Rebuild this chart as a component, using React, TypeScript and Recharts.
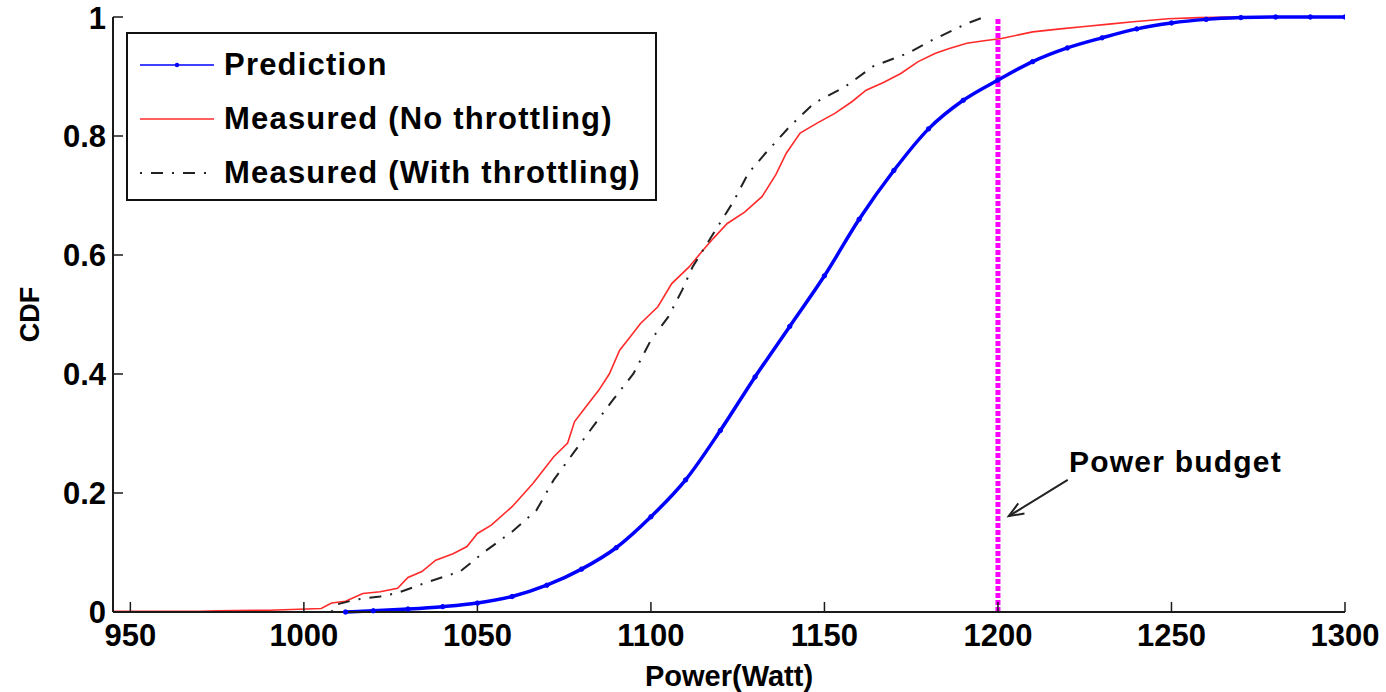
import React from "react";
import {
  LineChart,
  Line,
  XAxis,
  YAxis,
  ReferenceLine,
  ReferenceDot,
  Legend,
} from "recharts";

const FONT = '"Liberation Sans", Arial, Helvetica, sans-serif';

// Power (W) / CDF pairs
const predX = [1012, 1020, 1030, 1040, 1050, 1060, 1070, 1080, 1090, 1100, 1110, 1120, 1130, 1140, 1150, 1160, 1170, 1180, 1190, 1200, 1210, 1220, 1230, 1240, 1250, 1260, 1270, 1280, 1290, 1300];
const predY = [0.0, 0.002, 0.005, 0.009, 0.015, 0.026, 0.045, 0.072, 0.108, 0.16, 0.222, 0.305, 0.395, 0.48, 0.565, 0.66, 0.742, 0.812, 0.86, 0.894, 0.925, 0.948, 0.965, 0.98, 0.99, 0.996, 0.999, 1.0, 1.0, 1.0];

const noThrX = [945, 970, 975, 990, 1005, 1008, 1012, 1017, 1022, 1027, 1030, 1034, 1038, 1043, 1047, 1050, 1054, 1060, 1066, 1072, 1076, 1078, 1081, 1085, 1088, 1091, 1094, 1097, 1102, 1106, 1111, 1115, 1118, 1122, 1127, 1132, 1136, 1139, 1143, 1148, 1153, 1158, 1162, 1167, 1172, 1177, 1182, 1186, 1191, 1196, 1201, 1210, 1218, 1225, 1232, 1239, 1249, 1258, 1268];
const noThrY = [0.001, 0.001, 0.002, 0.003, 0.006, 0.015, 0.018, 0.031, 0.034, 0.04, 0.058, 0.068, 0.087, 0.098, 0.11, 0.132, 0.146, 0.177, 0.216, 0.261, 0.284, 0.32, 0.343, 0.373, 0.4, 0.44, 0.462, 0.485, 0.513, 0.552, 0.58, 0.608, 0.628, 0.653, 0.672, 0.698, 0.735, 0.771, 0.805, 0.822, 0.838, 0.858, 0.877, 0.89, 0.905, 0.925, 0.939, 0.947, 0.956, 0.96, 0.964, 0.975, 0.98, 0.984, 0.988, 0.992, 0.997, 0.999, 1.0];

const withThrX = [1008, 1009, 1015, 1022, 1027, 1036, 1045, 1052, 1060, 1067, 1072, 1078, 1084, 1089, 1095, 1100, 1105, 1109, 1112, 1118, 1124, 1128, 1133, 1140, 1147, 1156, 1164, 1174, 1181, 1191, 1196];
const withThrY = [0, 0.012, 0.021, 0.026, 0.032, 0.051, 0.068, 0.101, 0.135, 0.171, 0.222, 0.27, 0.317, 0.356, 0.401, 0.457, 0.496, 0.541, 0.58, 0.636, 0.692, 0.737, 0.771, 0.816, 0.855, 0.883, 0.917, 0.939, 0.961, 0.989, 1.0];

const xTicks = [950, 1000, 1050, 1100, 1150, 1200, 1250, 1300];
const yTicks = [0, 0.2, 0.4, 0.6, 0.8, 1];
const powerBudget = 1200;

const seriesNames = ["Prediction", "Measured (No throttling)", "Measured (With throttling)"];

const toPts = (xs: number[], ys: number[]) => xs.map((x, i) => ({ x, y: ys[i] }));
const predData = toPts(predX, predY);
const noThrData = toPts(noThrX, noThrY);
const withThrData = toPts(withThrX, withThrY);

const fmtY = (v: number) => (v === 0 || v === 1 ? String(v) : v.toFixed(1));

const tickStyle = { fontSize: 31, fontWeight: "bold", fill: "#000", fontFamily: FONT };
const axisLine = { stroke: "#1a1a1a", strokeWidth: 2 };

const LegendBox = () => (
  <div
    style={{
      width: 531,
      height: 169,
      border: "2px solid #111",
      background: "#fff",
      boxSizing: "border-box",
      fontFamily: FONT,
      fontWeight: "bold",
      fontSize: 31,
      letterSpacing: 1.2,
      color: "#000",
      paddingTop: 4,
    }}
  >
    {seriesNames.map((name, i) => (
      <div key={name} style={{ height: 54, display: "flex", alignItems: "center" }}>
        <svg width={96} height={20} style={{ flex: "none" }}>
          {i === 0 && (
            <g>
              <line x1={12} y1={10} x2={86} y2={10} stroke="#0000ff" strokeWidth={1.5} />
              <circle cx={49} cy={10} r={2.2} fill="#0000ff" />
            </g>
          )}
          {i === 1 && <line x1={12} y1={10} x2={86} y2={10} stroke="#ff2a2a" strokeWidth={1.5} />}
          {i === 2 && (
            <line x1={12} y1={10} x2={86} y2={10} stroke="#222" strokeWidth={1.8} strokeDasharray="2 9 12 9" />
          )}
        </svg>
        <span style={{ whiteSpace: "nowrap" }}>{name}</span>
      </div>
    ))}
  </div>
);

const ArrowShape = (props: any) => {
  const { x1, y1, x2, y2 } = props;
  const ang = Math.atan2(y2 - y1, x2 - x1);
  const L = 16;
  const w = 0.38;
  const p1 = [x2 - L * Math.cos(ang - w), y2 - L * Math.sin(ang - w)];
  const p2 = [x2 - L * Math.cos(ang + w), y2 - L * Math.sin(ang + w)];
  return (
    <g>
      <line x1={x1} y1={y1} x2={x2} y2={y2} stroke="#222" strokeWidth={2} />
      <polyline points={`${p1[0]},${p1[1]} ${x2},${y2} ${p2[0]},${p2[1]}`} fill="none" stroke="#222" strokeWidth={2} />
    </g>
  );
};

export default function App() {
  return (
    <div style={{ position: "absolute", left: 0, top: 0, width: 1386, height: 692, background: "#fff" }}>
      <LineChart width={1386} height={692} margin={{ top: 17, right: 41, bottom: 0, left: 0 }}>
        <XAxis
          xAxisId={0}
          dataKey="x"
          type="number"
          domain={[945, 1300]}
          ticks={xTicks}
          allowDataOverflow
          height={80}
          tickSize={-10}
          tickMargin={22}
          tick={tickStyle}
          tickLine={{ stroke: "#1a1a1a", strokeWidth: 1.5 }}
          axisLine={axisLine}
          label={{
            content: ({ viewBox }: any) => (
              <text
                x={viewBox.x + viewBox.width / 2}
                y={viewBox.y + 74}
                textAnchor="middle"
                fontFamily={FONT}
                fontWeight="bold"
                fontSize={29}
                fill="#000"
              >
                Power(Watt)
              </text>
            ),
          }}
        />
        <XAxis
          xAxisId="top"
          orientation="top"
          dataKey="x"
          type="number"
          domain={[945, 1300]}
          ticks={xTicks}
          allowDataOverflow
          height={0}
          tickSize={-10}
          tickFormatter={() => ""}
          tickLine={{ stroke: "#1a1a1a", strokeWidth: 1.5 }}
          axisLine={axisLine}
        />
        <YAxis
          yAxisId={0}
          type="number"
          domain={[0, 1]}
          ticks={yTicks}
          width={113}
          tickSize={-10}
          tickMargin={17}
          tickFormatter={fmtY}
          tick={tickStyle}
          tickLine={{ stroke: "#1a1a1a", strokeWidth: 1.5 }}
          axisLine={axisLine}
          label={{
            content: ({ viewBox }: any) => {
              const cx = 30;
              const cy = viewBox.y + viewBox.height / 2;
              return (
                <text
                  x={cx}
                  y={cy}
                  transform={`rotate(-90, ${cx}, ${cy})`}
                  textAnchor="middle"
                  dominantBaseline="central"
                  fontFamily={FONT}
                  fontWeight="bold"
                  fontSize={27}
                  fill="#000"
                >
                  CDF
                </text>
              );
            },
          }}
        />
        <YAxis
          yAxisId="right"
          orientation="right"
          type="number"
          domain={[0, 1]}
          ticks={yTicks}
          width={0}
          tickSize={-10}
          tickFormatter={() => ""}
          tickLine={{ stroke: "#1a1a1a", strokeWidth: 1.5 }}
          axisLine={axisLine}
        />
        <Legend
          layout="horizontal"
          verticalAlign="middle"
          align="center"
          content={() => <LegendBox />}
          wrapperStyle={{ position: "absolute", left: 126, top: 32, width: 531, height: 169 }}
        />
        <ReferenceLine
          x={powerBudget}
          stroke="#ff00ff"
          strokeWidth={5}
          strokeDasharray="5 2"
          ifOverflow="extendDomain"
        />
        <Line
          data={noThrData}
          dataKey="y"
          name={seriesNames[1]}
          type="linear"
          stroke="#ff2a2a"
          strokeWidth={1.6}
          dot={false}
          isAnimationActive={false}
        />
        <Line
          data={withThrData}
          dataKey="y"
          name={seriesNames[2]}
          type="linear"
          stroke="#222"
          strokeWidth={2}
          strokeDasharray="2 9 12 9"
          dot={false}
          isAnimationActive={false}
        />
        <Line
          data={predData}
          dataKey="y"
          name={seriesNames[0]}
          type="monotone"
          stroke="#0000ff"
          strokeWidth={3.5}
          dot={{ r: 2.2, fill: "#0000ff", stroke: "#0000ff", strokeWidth: 1 }}
          isAnimationActive={false}
        />
        <ReferenceLine
          segment={[
            { x: 1220.1, y: 0.222 },
            { x: 1203.1, y: 0.161 },
          ]}
          shape={ArrowShape}
        />
        <ReferenceDot
          x={1220.5}
          y={0.254}
          r={0}
          fill="none"
          stroke="none"
          label={{
            value: "Power budget",
            position: "right",
            offset: 0,
            fontFamily: FONT,
            fontWeight: "bold",
            fontSize: 30,
            letterSpacing: 1.2,
            fill: "#000",
          }}
        />
      </LineChart>
    </div>
  );
}
